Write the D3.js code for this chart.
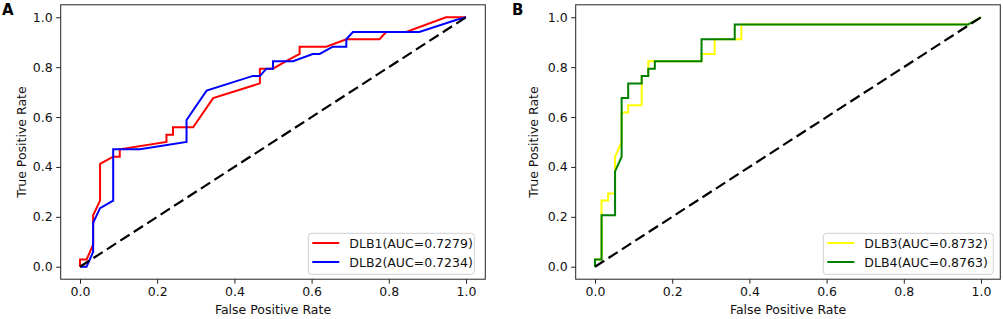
<!DOCTYPE html>
<html>
<head>
<meta charset="utf-8">
<script src="https://cdn.jsdelivr.net/npm/d3@7"></script>
<style>
  body { margin: 0; background: #fff; }
  svg text { font-family: "DejaVu Sans", sans-serif; }
</style>
</head>
<body>
<div id="chart"></div>
<script>
// ROC curve data
const dlb1Fpr = [0, 0, 0.017, 0.034, 0.034, 0.052, 0.052, 0.086, 0.103, 0.103, 0.224, 0.224, 0.241, 0.241, 0.293, 0.345, 0.466, 0.466, 0.5, 0.534, 0.569, 0.569, 0.638, 0.69, 0.776, 0.793, 0.845, 0.948, 1];
const dlb1Tpr = [0, 0.029, 0.029, 0.088, 0.206, 0.265, 0.412, 0.441, 0.441, 0.471, 0.5, 0.529, 0.529, 0.559, 0.559, 0.676, 0.735, 0.794, 0.794, 0.824, 0.853, 0.882, 0.882, 0.912, 0.912, 0.941, 0.941, 1, 1];

const dlb2Fpr = [0, 0.017, 0.034, 0.034, 0.052, 0.086, 0.086, 0.155, 0.276, 0.276, 0.328, 0.448, 0.466, 0.483, 0.5, 0.5, 0.552, 0.603, 0.621, 0.655, 0.69, 0.69, 0.707, 0.879, 0.976, 1];
const dlb2Tpr = [0, 0, 0.059, 0.176, 0.235, 0.265, 0.471, 0.471, 0.5, 0.588, 0.706, 0.765, 0.765, 0.794, 0.794, 0.824, 0.824, 0.853, 0.853, 0.882, 0.882, 0.912, 0.941, 0.941, 0.99, 1];

const dlb3Fpr = [0, 0, 0.017, 0.017, 0.034, 0.034, 0.052, 0.052, 0.069, 0.069, 0.086, 0.086, 0.121, 0.121, 0.138, 0.138, 0.276, 0.276, 0.31, 0.31, 0.379, 0.379, 0.966, 1];
const dlb3Tpr = [0, 0.029, 0.029, 0.265, 0.265, 0.294, 0.294, 0.441, 0.5, 0.618, 0.618, 0.647, 0.647, 0.765, 0.765, 0.824, 0.824, 0.853, 0.853, 0.912, 0.912, 0.971, 0.971, 1];

const dlb4Fpr = [0, 0, 0.017, 0.017, 0.052, 0.052, 0.069, 0.069, 0.086, 0.086, 0.121, 0.121, 0.138, 0.138, 0.155, 0.155, 0.276, 0.276, 0.362, 0.362, 0.966, 1];
const dlb4Tpr = [0, 0.029, 0.029, 0.206, 0.206, 0.382, 0.441, 0.676, 0.676, 0.735, 0.735, 0.765, 0.765, 0.794, 0.794, 0.824, 0.824, 0.912, 0.912, 0.971, 0.971, 1];

const seriesNames = ['DLB1(AUC=0.7279)', 'DLB2(AUC=0.7234)', 'DLB3(AUC=0.8732)', 'DLB4(AUC=0.8763)'];
const axisTicks = [0, 0.2, 0.4, 0.6, 0.8, 1.0];

const W = 1003, H = 319;
const plotTop = 4.8, plotBottom = 279.2;
const fontSize = 12.5;

const panels = [
    {
        label: 'A', labelX: 2, left: 60.7, right: 485.3, yLabelX: 26,
        legendX: 308.3, legendW: 166,
        series: [
            { name: seriesNames[0], fpr: dlb1Fpr, tpr: dlb1Tpr, color: '#ff0000' },
            { name: seriesNames[1], fpr: dlb2Fpr, tpr: dlb2Tpr, color: '#0000ff' }
        ]
    },
    {
        label: 'B', labelX: 512, left: 575.7, right: 1000.3, yLabelX: 537.5,
        legendX: 823.3, legendW: 170,
        series: [
            { name: seriesNames[2], fpr: dlb3Fpr, tpr: dlb3Tpr, color: '#ffff00' },
            { name: seriesNames[3], fpr: dlb4Fpr, tpr: dlb4Tpr, color: '#008000' }
        ]
    }
];

const svg = d3.select('#chart')
    .append('svg')
    .attr('width', W)
    .attr('height', H);

panels.forEach(p => {
    const x = d3.scaleLinear().domain([-0.05, 1.05]).range([p.left, p.right]);
    const y = d3.scaleLinear().domain([-0.05, 1.05]).range([plotBottom, plotTop]);
    const g = svg.append('g');

    // axes
    const xAxis = g.append('g')
        .attr('transform', `translate(0,${plotBottom})`)
        .call(d3.axisBottom(x).tickValues(axisTicks).tickFormat(d3.format('.1f'))
            .tickSize(4.5).tickPadding(3.5).tickSizeOuter(0));
    const yAxis = g.append('g')
        .attr('transform', `translate(${p.left},0)`)
        .call(d3.axisLeft(y).tickValues(axisTicks).tickFormat(d3.format('.1f'))
            .tickSize(4.5).tickPadding(3.5).tickSizeOuter(0));
    [xAxis, yAxis].forEach(a => {
        a.select('.domain').remove();
        a.selectAll('line').attr('stroke', '#222').attr('stroke-width', 1);
        a.selectAll('text').attr('fill', '#111')
            .style('font-size', fontSize + 'px')
            .style('font-family', '"DejaVu Sans", sans-serif');
    });

    // frame
    g.append('rect')
        .attr('x', p.left).attr('y', plotTop)
        .attr('width', p.right - p.left).attr('height', plotBottom - plotTop)
        .attr('fill', 'none').attr('stroke', '#222').attr('stroke-width', 1);

    const line = d3.line().x(d => x(d[0])).y(d => y(d[1]));

    p.series.forEach(s => {
        g.append('path')
            .datum(s.fpr.map((f, i) => [f, s.tpr[i]]))
            .attr('d', line)
            .attr('fill', 'none')
            .attr('stroke', s.color)
            .attr('stroke-width', 2)
            .attr('stroke-linejoin', 'miter');
    });

    // chance diagonal
    g.append('path')
        .datum([[0, 0], [1, 1]])
        .attr('d', line)
        .attr('fill', 'none')
        .attr('stroke', '#000')
        .attr('stroke-width', 2.2)
        .attr('stroke-dasharray', '11,5');

    // axis labels
    g.append('text')
        .attr('x', (p.left + p.right) / 2)
        .attr('y', 314)
        .attr('text-anchor', 'middle')
        .style('font-size', fontSize + 'px')
        .attr('fill', '#111')
        .text('False Positive Rate');

    g.append('text')
        .attr('transform', `translate(${p.yLabelX},${(plotTop + plotBottom) / 2}) rotate(-90)`)
        .attr('text-anchor', 'middle')
        .style('font-size', fontSize + 'px')
        .attr('fill', '#111')
        .text('True Positive Rate');

    // panel letter
    g.append('text')
        .attr('x', p.labelX)
        .attr('y', 15)
        .style('font-size', '15px')
        .style('font-weight', 'bold')
        .attr('fill', '#000')
        .text(p.label);

    // legend
    const legend = g.append('g').attr('transform', `translate(${p.legendX},233.3)`);
    legend.append('rect')
        .attr('width', p.legendW).attr('height', 41)
        .attr('rx', 3)
        .attr('fill', 'rgba(255,255,255,0.8)')
        .attr('stroke', '#d0d0d0').attr('stroke-width', 1);
    p.series.forEach((s, i) => {
        const row = legend.append('g').attr('transform', `translate(0,${9.7 + i * 19})`);
        row.append('line')
            .attr('x1', 4).attr('x2', 31)
            .attr('stroke', s.color).attr('stroke-width', 2);
        row.append('text')
            .attr('x', 41).attr('y', 4.5)
            .style('font-size', fontSize + 'px')
            .attr('fill', '#111')
            .text(s.name);
    });
});
</script>
</body>
</html>
